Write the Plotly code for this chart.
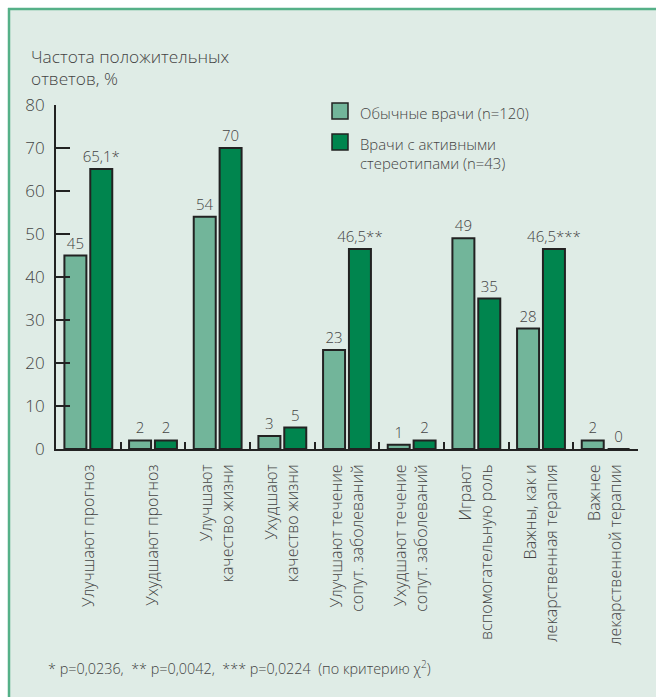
import plotly.graph_objects as go

# Survey categories (multi-line tick labels)
categories = [
    "Улучшают прогноз",
    "Ухудшают прогноз",
    "Улучшают<br>качество жизни",
    "Ухудшают<br>качество жизни",
    "Улучшают течение<br>сопут. заболеваний",
    "Ухудшают течение<br>сопут. заболеваний",
    "Играют<br>вспомогательную роль",
    "Важны, как и<br>лекарственная терапия",
    "Важнее<br>лекарственной терапии",
]

# Share of positive answers, %
ordinary_values = [45, 2, 54, 3, 23, 1, 49, 28, 2]
active_values = [65.1, 2, 70, 5, 46.5, 2, 35, 46.5, 0]

ordinary_labels = ["45", "2", "54", "3", "23", "1", "49", "28", "2"]
active_labels = ["65,1*", "2", "70", "5", "46,5**", "2", "35", "46,5***", "0"]

series_names = ["Обычные врачи (n=120)", "Врачи с активными<br>стереотипами (n=43)"]

y_ticks = [0, 10, 20, 30, 40, 50, 60, 70, 80]

title_text = "Частота положительных<br>ответов, %"
footnote_text = ("* p=0,0236,\u00a0\u00a0** p=0,0042,\u00a0\u00a0*** p=0,0224\u00a0\u00a0"
                 "(по критерию χ<sup>2</sup>)")

W, H = 656, 697
ML, MR, MT, MB = 56, 18, 105, 248
PW, PH = W - ML - MR, H - MT - MB

BG = "#dfece6"
FRAME = "#55b088"
LIGHT = "#72b59a"
DARK = "#00854e"
EDGE = "#222222"
TEXT = "#444444"
FONT = "Open Sans"
WEIGHT = 300


def px_x(px):
    return (px - ML) / PW


def px_y(py):
    return (H - MB - py) / PH


def font(size):
    return dict(family=FONT, size=size, color=TEXT, weight=WEIGHT)


fig = go.Figure()

fig.add_trace(go.Bar(
    x=categories, y=ordinary_values, name=series_names[0],
    marker=dict(color=LIGHT, line=dict(color=EDGE, width=2)),
    text=ordinary_labels, textposition="outside", constraintext="none",
    textfont=font(15), cliponaxis=False, showlegend=False,
))
fig.add_trace(go.Bar(
    x=categories, y=active_values, name=series_names[1],
    marker=dict(color=DARK, line=dict(color=EDGE, width=2)),
    text=active_labels, textposition="outside", constraintext="none",
    textfont=font(15), cliponaxis=False, showlegend=False,
))

shapes = [
    # white outer strips and green frame along the top and left edges
    dict(type="rect", xref="paper", yref="paper", x0=px_x(0), x1=px_x(W),
         y0=px_y(0), y1=px_y(8), fillcolor="white", line=dict(width=0), layer="below"),
    dict(type="rect", xref="paper", yref="paper", x0=px_x(0), x1=px_x(8),
         y0=px_y(0), y1=px_y(H), fillcolor="white", line=dict(width=0), layer="below"),
    dict(type="line", xref="paper", yref="paper", x0=px_x(8), x1=px_x(W),
         y0=px_y(9), y1=px_y(9), line=dict(color=FRAME, width=2.5)),
    dict(type="line", xref="paper", yref="paper", x0=px_x(9), x1=px_x(9),
         y0=px_y(8), y1=px_y(H), line=dict(color=FRAME, width=2.5)),
]

# legend swatches
legend_rows = [(103, LIGHT), (134, DARK)]
for top, color in legend_rows:
    shapes.append(dict(type="rect", xref="paper", yref="paper",
                       x0=px_x(332), x1=px_x(348), y0=px_y(top + 16), y1=px_y(top),
                       fillcolor=color, line=dict(color=EDGE, width=1.5)))

annotations = [
    dict(text=title_text, xref="paper", yref="paper", x=px_x(29), y=px_y(43),
         xanchor="left", yanchor="top", align="left", showarrow=False,
         font=font(17.3)),
    dict(text=series_names[0], xref="paper", yref="paper", x=px_x(358), y=px_y(101),
         xanchor="left", yanchor="top", align="left", showarrow=False,
         font=font(14.9)),
    dict(text=series_names[1], xref="paper", yref="paper", x=px_x(358), y=px_y(132),
         xanchor="left", yanchor="top", align="left", showarrow=False,
         font=font(14.9)),
    dict(text=footnote_text, xref="paper", yref="paper", x=px_x(46), y=px_y(667),
         xanchor="left", yanchor="middle", align="left", showarrow=False,
         font=font(14.4)),
]

fig.update_layout(
    width=W, height=H,
    margin=dict(l=ML, r=MR, t=MT, b=MB, pad=0),
    paper_bgcolor=BG, plot_bgcolor=BG,
    barmode="group", bargap=0.2, bargroupgap=0.15,
    shapes=shapes, annotations=annotations,
    font=dict(family=FONT, color=TEXT),
)

fig.update_xaxes(
    type="category", range=[-0.5, len(categories) - 0.5],
    showline=True, linecolor=EDGE, linewidth=2,
    ticks="inside", tickson="boundaries", ticklen=7, tickwidth=2, tickcolor=EDGE,
    tickangle=-90, tickfont=font(16),
    showgrid=False, zeroline=False, ticklabelstandoff=7,
)
fig.update_yaxes(
    range=[0, 80], tickvals=y_ticks,
    showline=True, linecolor=EDGE, linewidth=2,
    ticks="inside", ticklen=14, tickwidth=2, tickcolor=EDGE,
    tickfont=font(17),
    showgrid=False, zeroline=False, ticklabelstandoff=6,
)

fig.write_html("out.html")
